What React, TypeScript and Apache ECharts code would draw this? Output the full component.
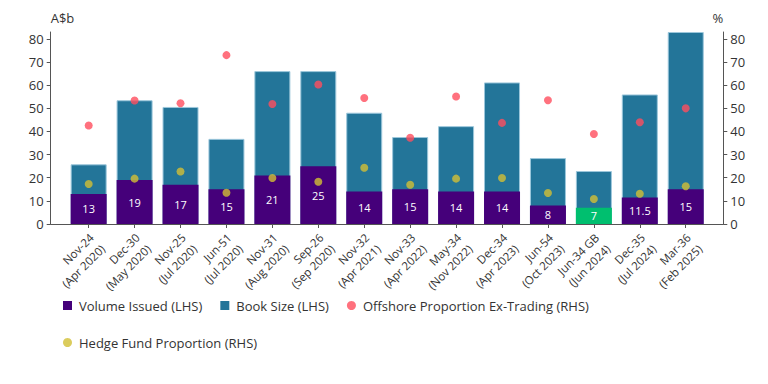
import React, { useEffect, useRef } from "react";
import * as echarts from "echarts";

const categories = [
  "Nov-24\n(Apr 2020)",
  "Dec-30\n(May 2020)",
  "Nov-25\n(Jul 2020)",
  "Jun-51\n(Jul 2020)",
  "Nov-31\n(Aug 2020)",
  "Sep-26\n(Sep 2020)",
  "Nov-32\n(Apr 2021)",
  "Nov-33\n(Apr 2022)",
  "May-34\n(Nov 2022)",
  "Dec-34\n(Apr 2023)",
  "Jun-54\n(Oct 2023)",
  "Jun-34 GB\n(Jun 2024)",
  "Dec-35\n(Jul 2024)",
  "Mar-36\n(Feb 2025)",
];

const volumeIssued = [13, 19, 17, 15, 21, 25, 14, 15, 14, 14, 8, 7, 11.5, 15];
const bookSize = [25.8, 53.5, 50.6, 36.8, 66.1, 66.1, 48.1, 37.6, 42.3, 61.2, 28.5, 22.9, 56, 83];
const offshoreProportion = [42.6, 53.4, 52.2, 73, 51.9, 60.3, 54.5, 37.3, 55.1, 43.7, 53.5, 38.9, 44, 50];
const hedgeFundProportion = [17.3, 19.6, 22.7, 13.5, 19.9, 18.3, 24.3, 17.0, 19.6, 19.9, 13.4, 10.8, 13.1, 16.3];
const greenBondCategory = "Jun-34 GB\n(Jun 2024)";
const yTicks = [0, 10, 20, 30, 40, 50, 60, 70, 80];

const FONT = "Open Sans";
const TEXT = "#333333";
const AXIS = "#555555";
const PURPLE = "#45007a";
const TEAL = "#237599";
const GREEN = "#00bf6f";
const RED = "#ff4d5e";
const YELLOW = "#d2bf34";

export default function App() {
  const ref = useRef<HTMLDivElement>(null);
  useEffect(() => {
    if (!ref.current) return;
    const chart = echarts.init(ref.current, undefined, { renderer: "svg" });
    const yAxisCommon = {
      type: "value",
      min: 0,
      max: 83,
      gridIndex: 0,
      splitLine: { show: false },
      axisLine: { show: true, lineStyle: { color: AXIS, width: 1 } },
      axisTick: { show: true, length: 4, lineStyle: { color: AXIS }, customValues: yTicks },
      axisLabel: { color: TEXT, fontSize: 13, fontFamily: FONT, customValues: yTicks, margin: 7 },
      nameTextStyle: { color: TEXT, fontSize: 13, fontFamily: FONT },
      nameGap: 8,
    };
    const legendText = { color: TEXT, fontSize: 13, fontFamily: FONT, padding: [0, 0, 0, 2] };
    chart.setOption({
      animation: false,
      textStyle: { fontFamily: FONT },
      grid: [
        { left: 65.7, right: 59.3, top: 32, bottom: 160 },
        { left: 50.7, right: 44.7, top: 32, bottom: 160 },
      ],
      xAxis: [
        {
          type: "category",
          gridIndex: 0,
          data: categories,
          axisLine: { show: true, lineStyle: { color: AXIS } },
          axisTick: { show: true, alignWithLabel: true, length: 4, lineStyle: { color: AXIS } },
          axisLabel: {
            rotate: 45,
            color: TEXT,
            fontSize: 11.5,
            fontFamily: FONT,
            interval: 0,
            lineHeight: 16,
            margin: 3,
            verticalAlign: "top",
            padding: [0, 4, 0, 0],
          },
        },
        {
          type: "value",
          gridIndex: 1,
          min: 0,
          max: 1,
          axisLine: { show: true, lineStyle: { color: AXIS } },
          axisTick: { show: false },
          axisLabel: { show: false },
          splitLine: { show: false },
        },
      ],
      yAxis: [
        { ...yAxisCommon, position: "left", offset: 15, name: "A$b", nameTextStyle: { ...yAxisCommon.nameTextStyle, align: "left" } },
        { ...yAxisCommon, position: "right", offset: 14.6, name: "%", nameTextStyle: { ...yAxisCommon.nameTextStyle, align: "right" } },
        { type: "value", gridIndex: 1, show: false, min: 0, max: 1 },
      ],
      legend: [
        {
          left: 58,
          top: 294,
          itemGap: 18,
          itemWidth: 9,
          itemHeight: 9,
          itemStyle: { borderWidth: 0 },
          data: [
            { name: "Volume Issued (LHS)", icon: "rect" },
            { name: "Book Size (LHS)", icon: "rect" },
            { name: "Offshore Proportion Ex-Trading (RHS)", icon: "circle" },
          ],
          textStyle: legendText,
        },
        {
          left: 58,
          top: 331,
          itemWidth: 9,
          itemHeight: 9,
          itemStyle: { borderWidth: 0 },
          data: [{ name: "Hedge Fund Proportion (RHS)", icon: "circle" }],
          textStyle: legendText,
        },
      ],
      series: [
        {
          name: "Book Size (LHS)",
          type: "bar",
          xAxisIndex: 0,
          yAxisIndex: 0,
          data: bookSize,
          barWidth: 36,
          barGap: "-100%",
          itemStyle: { color: TEAL, borderColor: "#9cc7db", borderWidth: 1 },
        },
        {
          name: "Volume Issued (LHS)",
          type: "bar",
          xAxisIndex: 0,
          yAxisIndex: 0,
          barWidth: 36,
          barGap: "-100%",
          data: volumeIssued.map((v, i) =>
            categories[i] === greenBondCategory ? { value: v, itemStyle: { color: GREEN } } : v
          ),
          itemStyle: { color: PURPLE },
          label: {
            show: true,
            position: "inside",
            color: "#ffffff",
            fontSize: 11,
            fontFamily: FONT,
            fontWeight: "normal",
          },
        },
        {
          name: "Offshore Proportion Ex-Trading (RHS)",
          type: "scatter",
          xAxisIndex: 0,
          yAxisIndex: 1,
          data: offshoreProportion,
          symbolSize: 8,
          itemStyle: { color: RED },
          z: 5,
        },
        {
          name: "Hedge Fund Proportion (RHS)",
          type: "scatter",
          xAxisIndex: 0,
          yAxisIndex: 1,
          data: hedgeFundProportion,
          symbolSize: 8,
          itemStyle: { color: YELLOW },
          z: 5,
        },
      ],
    });
    return () => chart.dispose();
  }, []);
  return (
    <div
      ref={ref}
      style={{ position: "fixed", left: 0, top: 0, width: 768, height: 384, background: "#ffffff" }}
    />
  );
}
